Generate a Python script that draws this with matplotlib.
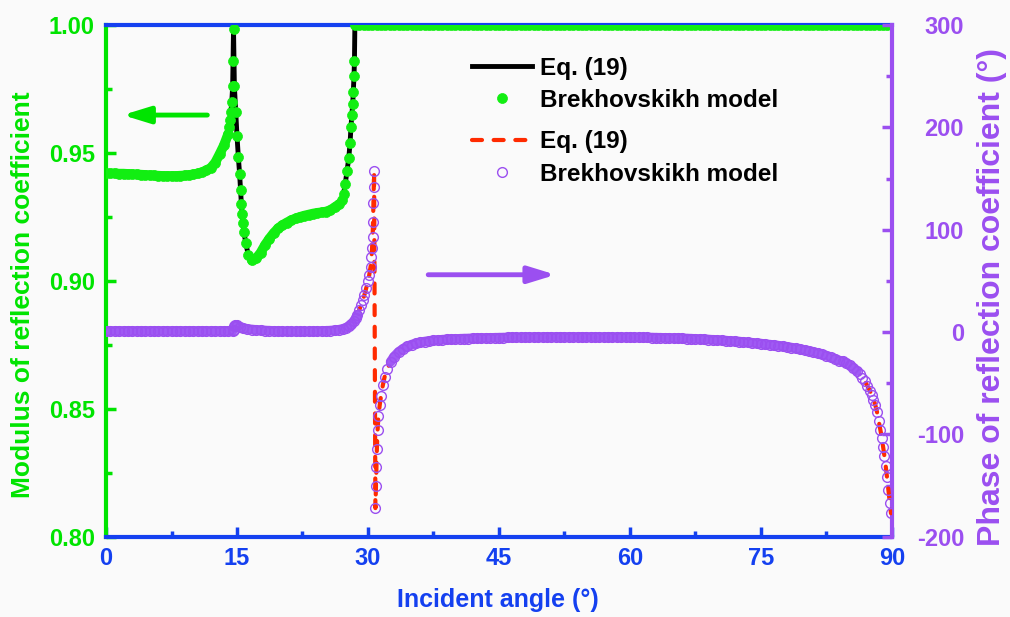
import matplotlib.pyplot as plt
import numpy as np
from matplotlib.ticker import MultipleLocator, FormatStrFormatter

plt.rcParams['font.family'] = ['Liberation Sans', 'DejaVu Sans']
plt.rcParams['font.weight'] = 'bold'
plt.rcParams['axes.unicode_minus'] = False

# ---- modulus of reflection coefficient (left axis) ----
mod_angle_a = np.arange(0, 14.01, 0.5)
mod_value_a = [0.9420, 0.9420, 0.9420, 0.9419, 0.9419, 0.9418, 0.9417, 0.9416, 0.9415, 0.9414,
               0.9413, 0.9412, 0.9411, 0.9410, 0.9410, 0.9410, 0.9410, 0.9411, 0.9412, 0.9414,
               0.9416, 0.9420, 0.9425, 0.9432, 0.9442, 0.9462, 0.9495, 0.9530, 0.9575]
mod_angle_b = [14.1, 14.2, 14.3, 14.4, 14.5, 14.55, 14.6, 14.7, 14.85, 15.0,
               15.15, 15.3, 15.4, 15.5, 15.6, 15.7, 15.8, 16.0, 16.3]
mod_value_b = [0.9600, 0.9630, 0.9660, 0.9700, 0.9760, 0.9860, 0.9985, 0.9760, 0.9660, 0.9566,
               0.9485, 0.9417, 0.9355, 0.9300, 0.9260, 0.9226, 0.9190, 0.9148, 0.9100]
mod_angle_c = np.arange(16.7, 26.71, 0.5)
mod_value_c = [0.9080, 0.9088, 0.9110, 0.9140, 0.9165, 0.9187, 0.9205, 0.9218, 0.9228, 0.9237,
               0.9244, 0.9250, 0.9255, 0.9259, 0.9263, 0.9266, 0.9268, 0.9271, 0.9277, 0.9288,
               0.9300]
mod_angle_d = [27.0, 27.2, 27.4, 27.6, 27.8, 27.95, 28.05, 28.15, 28.25, 28.32, 28.4, 28.45, 28.5]
mod_value_d = [0.9315, 0.9340, 0.9380, 0.9430, 0.9480, 0.9540, 0.9600, 0.9650, 0.9690, 0.9740,
               0.9800, 0.9860, 1.0000]
mod_angle_e = np.arange(29, 90.01, 0.5)
mod_value_e = [1.0] * len(mod_angle_e)   # total reflection beyond 2nd critical angle

mod_angle = np.concatenate([mod_angle_a, mod_angle_b, mod_angle_c, mod_angle_d, mod_angle_e])
mod_value = np.concatenate([mod_value_a, mod_value_b, mod_value_c, mod_value_d, mod_value_e])

# ---- phase of reflection coefficient (right axis, degrees) ----
ph_angle_a = np.arange(0, 14.51, 0.5)
ph_value_a = [1.0, 1.0, 1.0, 1.0, 1.0, 1.0, 1.0, 1.0, 1.0, 1.0,
              1.0, 1.0, 1.0, 1.0, 1.0, 1.0, 1.0, 1.0, 1.0, 1.0,
              1.0, 1.0, 1.0, 1.0, 1.0, 1.0, 1.0, 1.0, 1.0, 1.0]
ph_angle_b1 = [14.6, 14.7, 14.8, 15.0, 15.3, 15.7, 16.2, 16.7, 17.2, 17.7,
               18.2, 18.7, 19.2, 19.7, 20.2, 20.7, 21.2, 21.7, 22.2, 22.7,
               23.2, 23.7, 24.2, 24.7, 25.2, 25.7, 26.2, 26.7, 27.1, 27.5,
               27.8, 28.1, 28.4, 28.6, 28.8]
ph_value_b1 = [2.5, 5.5, 6.5, 6.5, 5.0, 3.8, 3.0, 2.5, 2.1, 1.8,
               1.5, 1.3, 1.1, 0.9, 0.8, 0.7, 0.6, 0.6, 0.6, 0.6,
               0.7, 0.8, 0.9, 1.0, 1.2, 1.4, 1.8, 2.3, 3.0, 4.3,
               5.8, 7.8, 10.5, 13.5, 17.0]
ph_angle_b2 = [29.0, 29.2, 29.4, 29.6, 29.8, 30.0, 30.15, 30.3, 30.4, 30.47,
               30.53, 30.58, 30.62, 30.66, 30.7]
ph_value_b2 = [21.5, 26.0, 31.0, 36.5, 43.0, 50.0, 56.0, 64.0, 73.0, 82.0,
               93.0, 108.0, 126.0, 142.0, 157.0]
ph_angle_c1 = [30.85, 30.92, 30.97, 31.02, 31.1, 31.2, 31.35, 31.5, 31.7, 31.9, 32.2]
ph_value_c1 = [-172, -150, -132, -114, -96, -82, -71, -62, -52, -44, -36]
ph_angle_c2 = [32.6, 33.0, 33.5, 34.0, 34.5, 35.0, 35.5, 36.0, 36.5,
               37.0, 37.5, 38.0, 38.5, 39.0, 39.5, 40.0]
ph_value_c2 = [-29, -24, -19.5, -16.5, -14, -12.3, -11, -10, -9.3,
               -8.7, -8.2, -7.8, -7.5, -7.2, -7.0, -6.8]
ph_angle_d = np.arange(40.5, 84.01, 0.5)
ph_value_d = [-6.6, -6.4, -6.3, -6.1, -6.0, -5.9, -5.8, -5.7, -5.6, -5.5,
              -5.4, -5.3, -5.3, -5.2, -5.2, -5.1, -5.1, -5.0, -5.0, -5.0,
              -4.9, -4.9, -4.9, -4.9, -4.9, -4.9, -4.9, -4.9, -4.9, -4.9,
              -4.9, -5.0, -5.0, -5.0, -5.0, -5.0, -5.0, -5.1, -5.1, -5.1,
              -5.2, -5.2, -5.3, -5.3, -5.4, -5.5, -5.6, -5.7, -5.8, -5.9,
              -6.0, -6.2, -6.3, -6.5, -6.7, -6.9, -7.1, -7.3, -7.6, -7.8,
              -8.1, -8.4, -8.7, -9.0, -9.3, -9.7, -10.1, -10.5, -10.9, -11.3,
              -11.8, -12.3, -12.8, -13.3, -13.9, -14.5, -15.2, -15.9, -16.7, -17.5,
              -18.4, -19.4, -20.5, -21.7, -23.0, -24.5, -26.1, -27.9]
ph_angle_e1 = [84.4, 84.8, 85.2, 85.6, 86.0]
ph_value_e1 = [-28.5, -30.5, -32.5, -35, -38]
ph_angle_e2 = [86.3, 86.6, 86.9, 87.2, 87.5, 87.7, 87.9, 88.1, 88.3, 88.5,
               88.7, 88.85, 89.0, 89.15, 89.3, 89.45, 89.6, 89.75, 89.9]
ph_value_e2 = [-41, -44.5, -48, -52.5, -57.5, -61.5, -66, -71, -78, -87,
               -96, -103, -112, -121, -131, -142, -154, -167, -177]

ph_angle = np.concatenate([ph_angle_a, ph_angle_b1, ph_angle_b2, ph_angle_c1, ph_angle_c2,
                           ph_angle_d, ph_angle_e1, ph_angle_e2])
ph_value = np.concatenate([ph_value_a, ph_value_b1, ph_value_b2, ph_value_c1, ph_value_c2,
                           ph_value_d, ph_value_e1, ph_value_e2])

GREEN = '#00E400'
DOT_GREEN = '#12EE12'
BLUE = '#1440F0'
PURPLE = '#9B4FF0'
RED = '#FF2A00'
BG = '#FAFAFA'

fig = plt.figure(figsize=(10.1, 6.17), dpi=100, facecolor=BG)
ax1 = fig.add_axes([0.105, 0.130, 0.778, 0.8295])
ax1.set_facecolor(BG)
ax2 = ax1.twinx()

# modulus: Eq.(19) line under the Brekhovskikh dots
l_black, = ax1.plot(mod_angle, mod_value, color='black', lw=3.5, zorder=3)
# flat parts: the dots are so dense they merge into a band
for xs, ys in [(mod_angle_a, mod_value_a), (mod_angle_c, mod_value_c), (mod_angle_e, mod_value_e)]:
    ax1.plot(xs, ys, color=DOT_GREEN, lw=7.0, solid_capstyle='round', zorder=3.5)
l_green, = ax1.plot(mod_angle, mod_value, ls='none', marker='o', ms=7.2,
                    mfc=DOT_GREEN, mec=DOT_GREEN, mew=0.5, zorder=4)

# phase: Eq.(19) dashed line, then the densely packed open circles
l_red, = ax2.plot(ph_angle, ph_value, color=RED, lw=3, dashes=(2.4, 2.8),
                  dash_capstyle='round', zorder=3)
band_segments = [
    (np.concatenate([ph_angle_a, ph_angle_b1]), np.concatenate([ph_value_a, ph_value_b1])),
    (np.concatenate([ph_angle_c2, ph_angle_d, ph_angle_e1]),
     np.concatenate([ph_value_c2, ph_value_d, ph_value_e1])),
]
for xs, ys in band_segments:
    ax2.plot(xs, ys, color='#A05AF4', lw=7.0, solid_capstyle='round', zorder=3.5)
l_purple, = ax2.plot(ph_angle, ph_value, ls='none', marker='o', ms=7,
                     mfc='none', mec=PURPLE, mew=1.0, zorder=4)

ax1.set_xlim(0, 90)
ax1.set_ylim(0.80, 1.00)
ax2.set_ylim(-200, 300)

ax1.xaxis.set_major_locator(MultipleLocator(15))
ax1.xaxis.set_minor_locator(MultipleLocator(7.5))
ax1.yaxis.set_major_locator(MultipleLocator(0.05))
ax1.yaxis.set_minor_locator(MultipleLocator(0.025))
ax1.yaxis.set_major_formatter(FormatStrFormatter('%.2f'))
ax2.yaxis.set_major_locator(MultipleLocator(100))
ax2.yaxis.set_minor_locator(MultipleLocator(50))

ax1.tick_params(axis='x', which='both', direction='in', colors=BLUE, labelsize=17, pad=7, width=2.5)
ax1.tick_params(axis='x', which='major', length=7)
ax1.tick_params(axis='x', which='minor', length=4)
ax1.tick_params(axis='y', which='both', direction='in', colors=GREEN, labelsize=17, pad=8, width=2.5)
ax1.tick_params(axis='y', which='major', length=7)
ax1.tick_params(axis='y', which='minor', length=4)
ax2.tick_params(axis='y', which='both', direction='in', colors=PURPLE, labelsize=17, pad=52, width=2.5)
ax2.tick_params(axis='y', which='major', length=7)
ax2.tick_params(axis='y', which='minor', length=4)
for t in ax2.get_yticklabels():
    t.set_ha('right')

for side in ['top', 'bottom']:
    ax1.spines[side].set_color(BLUE)
    ax1.spines[side].set_linewidth(3)
ax1.spines['left'].set_color(GREEN)
ax1.spines['left'].set_linewidth(3)
ax1.spines['right'].set_visible(False)
for side in ['top', 'bottom', 'left']:
    ax2.spines[side].set_visible(False)
ax2.spines['right'].set_color(PURPLE)
ax2.spines['right'].set_linewidth(3)

fig.text(0.0228, 0.522, 'Modulus of reflection coefficient', rotation=90,
         ha='center', va='center', fontsize=19, color=GREEN)
fig.text(0.982, 0.519, 'Phase of reflection coefficient (°)', rotation=90,
         ha='center', va='center', fontsize=23, color=PURPLE)
fig.text(0.493, 0.0276, 'Incident angle (°)', ha='center', va='center',
         fontsize=18, color=BLUE)

# arrows pointing to each axis
ax1.annotate('', xy=(1.9, 0.9648), xytext=(11.6, 0.9648),
             arrowprops=dict(arrowstyle='-|>,head_length=0.65,head_width=0.2', color=GREEN,
                             lw=3.5, mutation_scale=25, shrinkA=0, shrinkB=0))
ax2.annotate('', xy=(51.5, 56), xytext=(36.9, 56),
             arrowprops=dict(arrowstyle='-|>,head_length=0.65,head_width=0.2', color=PURPLE,
                             lw=3.5, mutation_scale=25, shrinkA=0, shrinkB=0))

leg_kw = dict(loc='upper left', bbox_transform=fig.transFigure, frameon=False, fontsize=17.5,
              handlelength=2.5, handletextpad=0.3, labelspacing=0.38, borderpad=0,
              borderaxespad=0, numpoints=1)
leg1 = ax2.legend([l_black, l_green], ['Eq. (19)', 'Brekhovskikh model'],
                  bbox_to_anchor=(0.467, 0.908), **leg_kw)
ax2.add_artist(leg1)
ax2.legend([l_red, l_purple], ['Eq. (19)', 'Brekhovskikh model'],
           bbox_to_anchor=(0.467, 0.7885), **leg_kw)

fig.savefig('out.png', dpi=100, facecolor=BG)
